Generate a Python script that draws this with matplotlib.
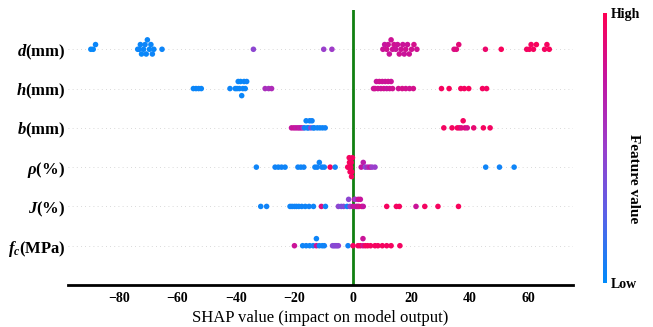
import numpy as np
import matplotlib
matplotlib.use("Agg")
import matplotlib.pyplot as plt
from matplotlib.colors import LinearSegmentedColormap

plt.rcParams["font.family"] = "Liberation Serif"
plt.rcParams["mathtext.fontset"] = "custom"
plt.rcParams["mathtext.it"] = "Liberation Serif:italic:bold"
plt.rcParams["mathtext.rm"] = "Liberation Serif:bold"
plt.rcParams["mathtext.bf"] = "Liberation Serif:bold"

# feature names, top row first
features = [r"$d$(mm)", r"$h$(mm)", r"$b$(mm)", r"$\rho$(%)", r"$J$(%)", r"$f_c$(MPa)"]

d_shap = [-89.5, -88.7, -87.9, -73.5, -73.0, -72.6, -72.2, -71.5, -71.0, -70.6, -70.2,
          -69.5, -69.0, -68.5, -68.0, -65.2, -34.0, -10.0, -7.2, 10.2, 10.8, 11.5, 12.0,
          12.4, 13.0, 13.5, 14.0, 14.6, 15.2, 15.8, 16.4, 17.0, 17.5, 18.0, 18.6, 19.2,
          20.0, 20.8, 21.8, 34.5, 35.3, 36.1, 45.2, 50.6, 59.3, 60.2, 60.8, 61.6, 62.6,
          65.4, 66.2, 67.0]
d_feat = [0.02, 0.02, 0.03, 0.03, 0.04, 0.03, 0.02, 0.03, 0.04, 0.03, 0.03,
          0.02, 0.03, 0.04, 0.03, 0.04, 0.45, 0.5, 0.52, 0.78, 0.76, 0.8, 0.78,
          0.77, 0.79, 0.78, 0.8, 0.77, 0.78, 0.8, 0.79, 0.78, 0.77, 0.8, 0.78, 0.79,
          0.8, 0.82, 0.8, 0.85, 0.86, 0.88, 0.92, 0.97, 0.95, 0.96, 0.95, 0.96, 0.97,
          0.95, 0.96, 0.97]

h_shap = [-54.5, -53.6, -52.7, -51.8, -42.0, -40.2, -39.6, -39.2, -38.8, -38.4, -38.0,
          -37.6, -37.2, -36.8, -36.3, -30.0, -28.8, -27.8, 7.0, 7.5, 8.0, 8.5, 9.0, 9.5,
          10.0, 10.5, 11.0, 11.5, 12.0, 12.5, 13.0, 13.5, 15.5, 16.8, 18.0, 19.3, 20.6,
          30.2, 32.8, 36.8, 38.0, 39.5, 44.2, 45.6]
h_feat = [0.03, 0.03, 0.04, 0.03, 0.04, 0.03, 0.03, 0.04, 0.03, 0.02, 0.03,
          0.04, 0.03, 0.03, 0.04, 0.6, 0.58, 0.62, 0.78, 0.8, 0.77, 0.79, 0.8, 0.78,
          0.79, 0.8, 0.78, 0.77, 0.8, 0.79, 0.78, 0.8, 0.8, 0.82, 0.81, 0.8, 0.82,
          0.96, 0.97, 0.96, 0.95, 0.97, 0.96, 0.95]

b_shap = [-21.0, -20.2, -19.5, -18.8, -18.2, -17.6, -17.0, -16.5, -16.0, -15.6, -15.2,
          -14.8, -14.4, -14.0, -13.6, -13.2, -12.2, -11.3, -10.4, -9.5, 31.0, 33.8,
          35.6, 36.3, 37.0, 37.6, 38.2, 39.0, 41.2, 44.5, 46.8]
b_feat = [0.75, 0.78, 0.72, 0.76, 0.7, 0.74, 0.5, 0.05, 0.04, 0.06, 0.05,
          0.04, 0.4, 0.05, 0.04, 0.05, 0.04, 0.05, 0.04, 0.05, 0.95, 0.96,
          0.95, 0.94, 0.85, 0.95, 0.86, 0.82, 0.9, 0.96, 0.95]

rho_shap = [-33.0, -26.6, -25.5, -24.4, -23.2, -18.8, -17.8, -16.8, -13.0, -12.2, -11.5,
            -10.6, -9.8, -7.8, -6.1, -1.8, -1.5, -1.2, -1.0, -0.8, -0.6, -0.4, -0.2,
            -0.5, -1.3, 2.8, 3.5, 4.2, 5.0, 5.8, 6.5, 7.5, 45.3, 50.0, 55.0]
rho_feat = [0.04, 0.05, 0.04, 0.05, 0.04, 0.05, 0.04, 0.05, 0.04, 0.05, 0.04,
            0.05, 0.04, 0.96, 0.05, 0.96, 0.95, 0.97, 0.96, 0.95, 0.96, 0.97, 0.95,
            0.96, 0.95, 0.75, 0.7, 0.45, 0.6, 0.75, 0.5, 0.5, 0.04, 0.05, 0.04]

j_shap = [-31.5, -29.5, -21.5, -20.8, -20.0, -19.3, -18.5, -17.5, -16.3, -15.0, -13.5,
          -10.8, -9.4, -5.0, -4.0, -3.2, -2.0, -1.5, -1.0, 0.0, 0.5, 1.0, 1.5, 2.0,
          2.5, 3.0, 3.5, 0.8, 1.8, 11.5, 14.8, 15.8, 21.5, 24.5, 29.0, 36.0]
j_feat = [0.04, 0.05, 0.04, 0.05, 0.04, 0.05, 0.04, 0.05, 0.04, 0.05, 0.04,
          0.85, 0.05, 0.45, 0.4, 0.42, 0.05, 0.45, 0.5, 0.75, 0.8, 0.72, 0.78, 0.8,
          0.76, 0.85, 0.75, 0.5, 0.8, 0.96, 0.95, 0.96, 0.78, 0.95, 0.96, 0.97]

fc_shap = [-20.0, -17.2, -16.0, -14.8, -13.6, -12.5, -12.5, -11.5, -10.5, -9.8, -7.0,
           -6.5, -6.0, -5.5, -5.0, -1.7, 0.0, 1.7, 2.5, 3.4, 3.4, 4.2, 5.0, 6.0, 7.5,
           8.5, 10.0, 11.5, 13.0, 16.0]
fc_feat = [0.78, 0.04, 0.05, 0.04, 0.05, 0.78, 0.04, 0.05, 0.04, 0.05, 0.45,
           0.4, 0.45, 0.42, 0.45, 0.05, 0.96, 0.95, 0.96, 0.8, 0.78, 0.95, 0.96, 0.95, 0.96,
           0.95, 0.96, 0.95, 0.96, 0.95]

shap_rows = [d_shap, h_shap, b_shap, rho_shap, j_shap, fc_shap]
feat_rows = [d_feat, h_feat, b_feat, rho_feat, j_feat, fc_feat]

red_blue = LinearSegmentedColormap.from_list(
    "red_blue", ["#008bfb", "#5a62e8", "#9a3fcc", "#c316a2", "#ff0052"])


def swarm(vals, nbins=100, row_height=0.4):
    # stack points that fall into the same bin, alternating up/down
    vals = np.asarray(vals, dtype=float)
    quant = np.round(nbins * (vals - vals.min()) / (vals.max() - vals.min() + 1e-8))
    inds = np.argsort(quant, kind="stable")
    ys = np.zeros(len(vals))
    layer, last = 0, -1
    for i in inds:
        if quant[i] != last:
            layer = 0
        ys[i] = np.ceil(layer / 2) * ((layer % 2) * 2 - 1)
        layer += 1
        last = quant[i]
    ys *= 0.9 * (row_height / np.max(ys + 1))
    return ys


fig = plt.figure(figsize=(6.53, 3.27), dpi=100)
ax = fig.add_axes([68 / 653, 42 / 327, 505 / 653, 275 / 327])

n = len(features)
for k, (sv, fv) in enumerate(zip(shap_rows, feat_rows)):
    pos = n - 1 - k
    ax.axhline(pos, color="#cccccc", lw=0.6, dashes=(1, 4), zorder=-1)
    ax.scatter(sv, pos + swarm(sv), c=fv, cmap=red_blue, vmin=0, vmax=1,
               s=16, linewidth=0, zorder=3)

ax.axvline(0, color="#118011", lw=2, zorder=2)

ax.set_ylim(-1, n)
ax.set_xlim(-97.3, 75.1)
ax.set_yticks(range(n))
ax.set_yticklabels(features[::-1], fontsize=12, fontweight="bold")
ax.set_xticks([-80, -60, -40, -20, 0, 20, 40, 60])
for lbl in ax.get_xticklabels():
    lbl.set_fontweight("bold")
ax.tick_params(axis="y", length=0, pad=2)
ax.tick_params(axis="x", length=0, pad=5, labelsize=10)
for side in ["left", "right", "top"]:
    ax.spines[side].set_visible(False)
ax.spines["bottom"].set_linewidth(2)
ax.set_xlabel("SHAP value (impact on model output)", fontsize=12, labelpad=4)

# colour bar on the right
cax = fig.add_axes([603 / 653, 44 / 327, 4 / 653, 270 / 327])
grad = np.linspace(0, 1, 256).reshape(-1, 1)
cax.imshow(grad, cmap=red_blue, aspect="auto", origin="lower", extent=[0, 1, 0, 1])
cax.set_xticks([])
cax.yaxis.tick_right()
cax.set_yticks([0, 1])
cax.set_yticklabels(["Low", "High"], fontsize=10, fontweight="bold")
cax.tick_params(axis="y", length=0, pad=3)
for s in cax.spines.values():
    s.set_visible(False)
fig.text(634 / 653, 148 / 327, "Feature value", rotation=-90, ha="center", va="center",
         fontsize=11, fontweight="bold")

fig.savefig("out.png", dpi=100)
